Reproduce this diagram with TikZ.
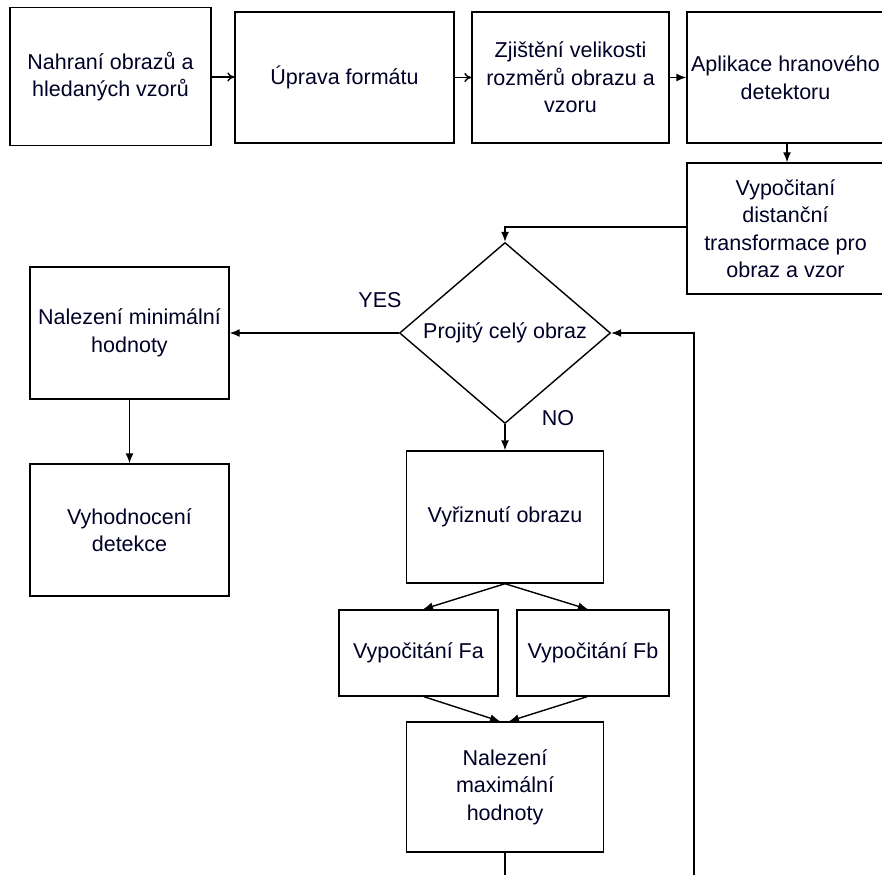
\documentclass[tikz,border=0pt]{standalone}
\usepackage{fontspec}
\setmainfont{Liberation Sans}
\usetikzlibrary{shapes.geometric,arrows.meta}
\begin{document}
\begin{tikzpicture}[x=1pt,y=-1pt,
  every node/.style={font=\fontsize{21.5}{27.5}\selectfont, text=black!85!blue},
  box/.style={draw, line width=1.4pt, align=center, inner sep=0pt},
  flow/.style={line width=1.4pt, -{Latex[length=10pt,width=8pt]}},
  open/.style={line width=1.4pt, -{To[length=7pt,width=9pt]}},
  plain/.style={line width=1.4pt}]
\useasboundingbox (0,0) rectangle (882,874);
\clip (0,0) rectangle (882,874);

% top row
\node[box, minimum width=201pt, minimum height=138pt] (load) at (110.5,76.5) {Nahraní obrazů a\\hledaných vzorů};
\node[box, minimum width=219pt, minimum height=131pt] (fmt) at (344.5,77.5) {Úprava formátu};
\node[box, minimum width=197pt, minimum height=131pt] (size) at (570.5,77.5) {Zjištění velikosti\\rozměrů obrazu a\\vzoru};
\node[box, minimum width=197pt, minimum height=131pt] (edge) at (785.5,77.5) {Aplikace hranového\\detektoru};
\node[box, minimum width=197pt, minimum height=131pt] (dist) at (785.5,228.5) {Vypočitaní\\distanční\\transformace pro\\obraz a vzor};

% decision
\node[draw, diamond, line width=1.4pt, inner sep=0pt, shape aspect=1.166,
      minimum width=211pt, minimum height=181pt] (dec) at (505,333) {Projitý celý obraz};

% left branch
\node[box, minimum width=199pt, minimum height=132pt] (min) at (129.5,333) {Nalezení minimální\\hodnoty};
\node[box, minimum width=199pt, minimum height=132pt] (eval) at (129.5,530) {Vyhodnocení\\detekce};

% loop body
\node[box, minimum width=197pt, minimum height=132pt] (cut) at (505,517) {Vyřiznutí obrazu};
\node[box, minimum width=159pt, minimum height=86pt] (fa) at (418.5,653) {Vypočitání Fa};
\node[box, minimum width=152pt, minimum height=86pt] (fb) at (593,653) {Vypočitání Fb};
\node[box, minimum width=197pt, minimum height=130pt] (max) at (505,787) {Nalezení\\maximální\\hodnoty};

% branch labels
\node (yes) at (380,300) {YES};
\node (no) at (558,418) {NO};

% loop return path below the visible area
\coordinate (maxend) at (505,880);
\coordinate (backlow) at (694,880);

% connectors
\draw[open] (load.east |- 0,77) -- (fmt.west |- 0,77);
\draw[open] (fmt.east) -- (size.west);
\draw[flow] (size.east) -- (edge.west);
\draw[flow] (edge.south -| 787,0) -- (dist.north -| 787,0);
\draw[flow] (dist.west |- 0,227) -| (dec.north);
\draw[flow] (dec.west) -- (min.east);
\draw[flow] (min.south) -- (eval.north);
\draw[flow] (dec.south) -- (cut.north);
\draw[flow] (cut.south) -- (fa.north -| 423,0);
\draw[flow] (cut.south) -- (fb.north -| 588,0);
\draw[flow] (fa.south -| 424,0) -- (max.north -| 500,0);
\draw[flow] (fb.south -| 587,0) -- (max.north -| 509,0);
\draw[plain] (max.south) -- (maxend);
\draw[flow] (backlow) |- (dec.east);
\end{tikzpicture}
\end{document}
